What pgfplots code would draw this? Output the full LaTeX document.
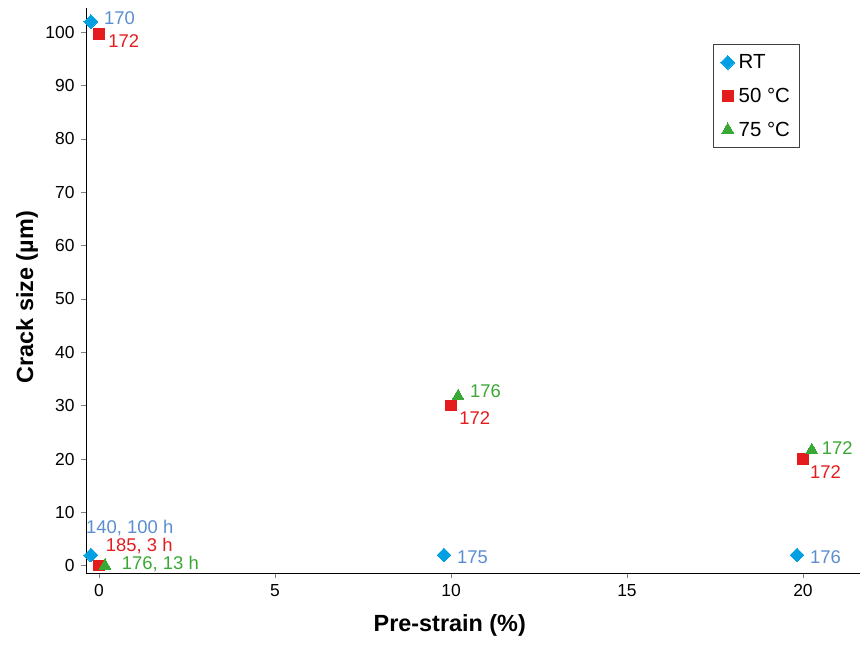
\documentclass[border=0pt]{standalone}
\usepackage{pgfplots}
\pgfplotsset{compat=1.18}
\usepackage{fontspec}
\setmainfont{Liberation Sans}
\definecolor{cblue}{RGB}{0,160,226}
\definecolor{lblue}{RGB}{90,142,208}
\definecolor{cred}{RGB}{228,28,30}
\definecolor{cgreen}{RGB}{58,168,52}
\begin{document}
\begin{tikzpicture}
\begin{axis}[
  scale only axis, width=774bp, height=565bp,
  xmin=-0.37, xmax=21.62, ymin=-1.37, ymax=104.55,
  axis lines*=left,
  axis line style={black, line width=1pt},
  tick align=outside, major tick length=5bp,
  tick style={gray, line width=0.8pt},
  xtick={0,5,10,15,20}, ytick={0,10,...,100},
  /pgf/number format/assume math mode=true,
  ticklabel style={font=\fontsize{17.5}{20}\selectfont},
  xticklabel style={yshift=-3bp},
  yticklabel style={xshift=-3bp},
  xlabel={\textbf{Pre-strain (\%)}},
  ylabel={\textbf{Crack size (µm)}},
  label style={font=\fontsize{23.5}{28}\selectfont},
  x label style={at={(axis description cs:0.47,-0.092)}, anchor=center},
  y label style={at={(axis description cs:-0.076,0.488)}, anchor=center},
  legend style={at={(axis description cs:0.81,0.936)}, anchor=north west,
    draw=black!75, line width=0.8pt, font=\fontsize{20.5}{24}\selectfont,
    row sep=14bp, inner xsep=7.5bp, inner ysep=8bp,
    /tikz/every odd column/.append style={column sep=2bp}},
  legend cell align=left,
  clip=false,
]
\addplot[only marks, mark=square*, mark options={rotate=45, draw=cblue, fill=cblue, line width=0pt}, mark size=4.9bp]
  coordinates {(-0.23,102) (-0.23,2) (9.8,2) (19.83,2)};
\addlegendentry{RT}
\addplot[only marks, mark=square*, mark options={draw=cred, fill=cred, line width=0pt}, mark size=5.3bp]
  coordinates {(0,99.7) (0,0) (10,30) (20,20)};
\addlegendentry{50 °C}
\addplot[only marks, mark=triangle*, mark options={draw=cgreen, fill=cgreen, line width=0pt}, mark size=6.8bp]
  coordinates {(0.17,0) (10.2,31.8) (20.25,21.7)};
\addlegendentry{75 °C}
\begin{scope}[every node/.style={anchor=west, inner sep=0pt, font=\fontsize{18.5}{21}\selectfont}]
\node[text=lblue] at (axis cs:0.14,102.7) {170};
\node[text=cred] at (axis cs:0.26,98.4) {172};
\node[text=lblue] at (axis cs:-0.37,7.07) {140, 100 h};
\node[text=cred] at (axis cs:0.19,3.75) {185, 3 h};
\node[text=cgreen] at (axis cs:0.645,0.32) {176, 13 h};
\node[text=cgreen] at (axis cs:10.54,32.8) {176};
\node[text=cred] at (axis cs:10.23,27.7) {172};
\node[text=lblue] at (axis cs:10.17,1.67) {175};
\node[text=lblue] at (axis cs:20.2,1.67) {176};
\node[text=cgreen] at (axis cs:20.53,22.1) {172};
\node[text=cred] at (axis cs:20.2,17.6) {172};
\end{scope}
\end{axis}
\pgfresetboundingbox
\path (-86bp,-73bp) rectangle (774bp,573bp);
\end{tikzpicture}
\end{document}
